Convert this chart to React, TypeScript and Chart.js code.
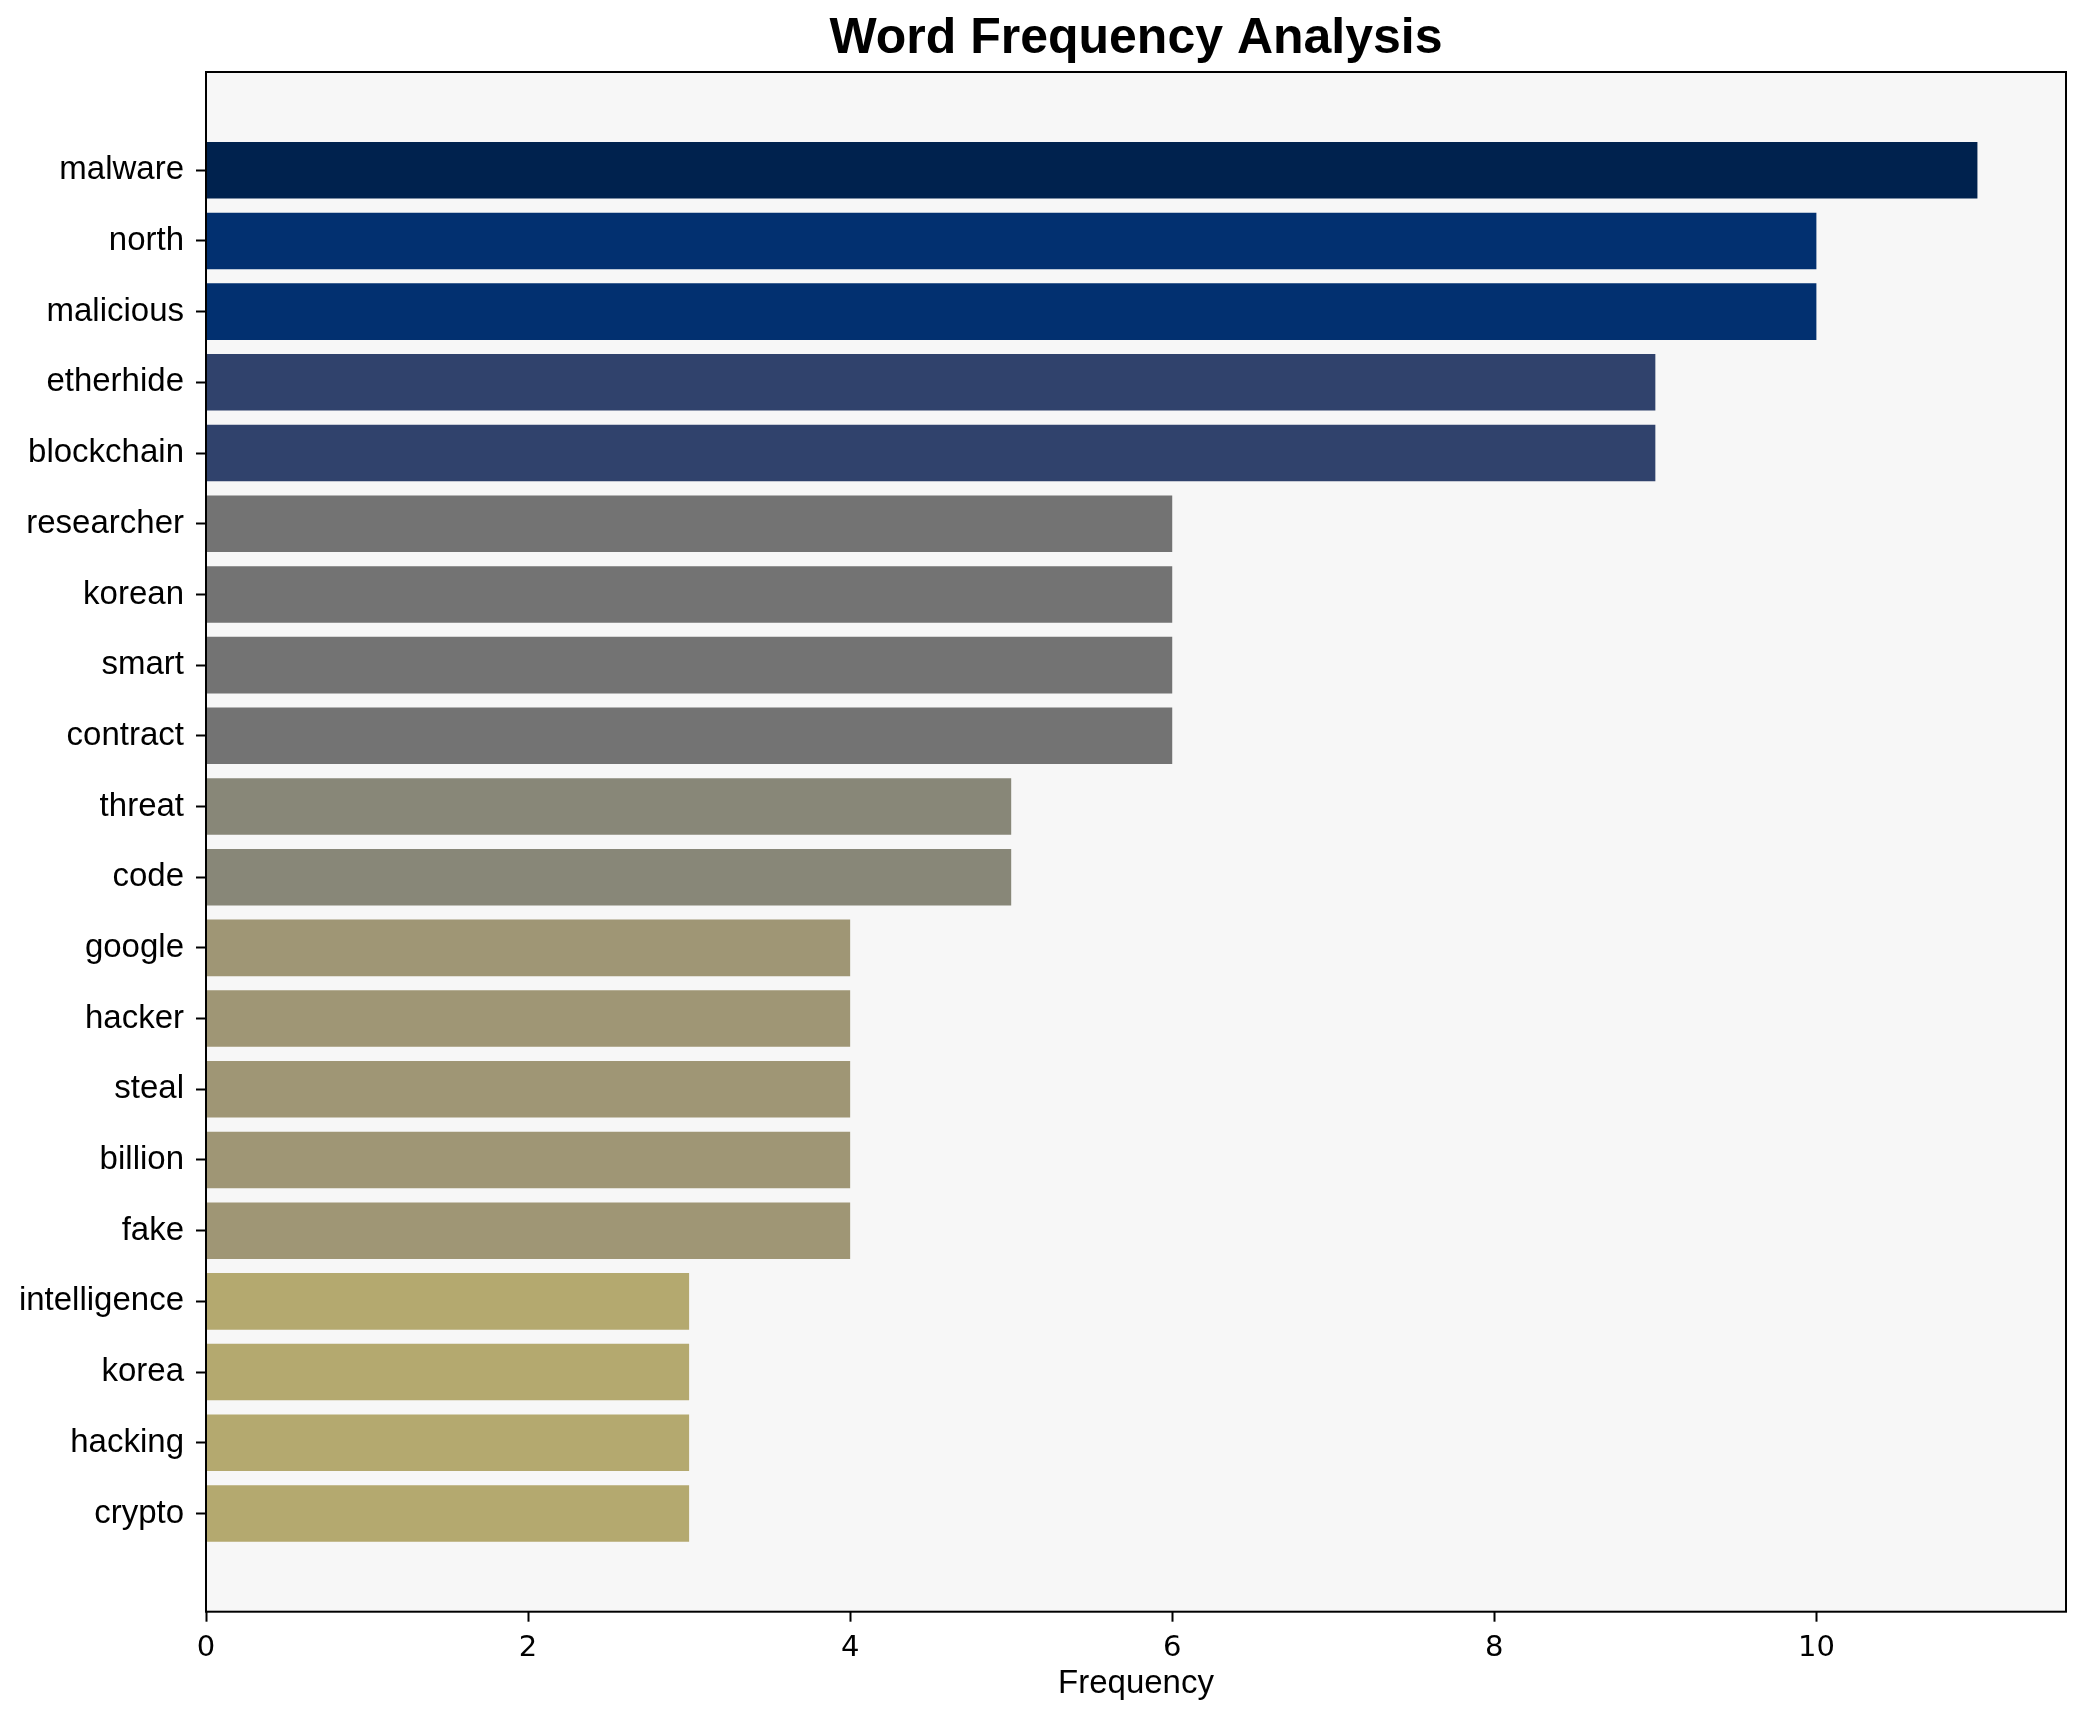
import React, { useEffect, useRef } from "react";
import { Chart, registerables } from "chart.js";

Chart.register(...registerables);

const words = [
  "malware", "north", "malicious", "etherhide", "blockchain",
  "researcher", "korean", "smart", "contract", "threat",
  "code", "google", "hacker", "steal", "billion",
  "fake", "intelligence", "korea", "hacking", "crypto",
];
const frequencies = [11, 10, 10, 9, 9, 6, 6, 6, 6, 5, 5, 4, 4, 4, 4, 4, 3, 3, 3, 3];
const barColors = [
  "#00224e", "#023070", "#023070", "#30426c", "#30426c",
  "#737373", "#737373", "#737373", "#737373", "#888778",
  "#888778", "#9f9675", "#9f9675", "#9f9675", "#9f9675",
  "#9f9675", "#b4a96f", "#b4a96f", "#b4a96f", "#b4a96f",
];
const xTickValues = [0, 2, 4, 6, 8, 10];

const frame = {
  id: "frame",
  beforeDraw(chart: any) {
    const { ctx, chartArea } = chart;
    ctx.save();
    ctx.fillStyle = "#f7f7f7";
    ctx.fillRect(chartArea.left, chartArea.top, chartArea.right - chartArea.left, chartArea.bottom - chartArea.top);
    ctx.restore();
  },
  afterDraw(chart: any) {
    const { ctx, chartArea } = chart;
    ctx.save();
    ctx.strokeStyle = "#000";
    ctx.lineWidth = 2;
    ctx.strokeRect(chartArea.left, chartArea.top, chartArea.right - chartArea.left, chartArea.bottom - chartArea.top);
    ctx.restore();
  },
};

export default function App() {
  const ref = useRef<HTMLCanvasElement | null>(null);
  useEffect(() => {
    document.body.style.margin = "0";
    const chart = new Chart(ref.current as HTMLCanvasElement, {
      type: "bar",
      data: {
        datasets: [
          {
            data: frequencies.map((v, i) => ({ x: v, y: i })) as any,
            backgroundColor: barColors,
            borderWidth: 0,
            barPercentage: 0.8,
            categoryPercentage: 1,
          },
        ],
      },
      plugins: [frame],
      options: {
        indexAxis: "y",
        animation: false,
        responsive: true,
        maintainAspectRatio: false,
        devicePixelRatio: 1,
        layout: { padding: { left: 0, right: 20, top: 0, bottom: 0 } },
        plugins: {
          legend: { display: false },
          tooltip: { enabled: false },
          title: {
            display: true,
            text: "Word Frequency Analysis",
            fullSize: false,
            color: "#000",
            font: { family: "'Liberation Sans', Arial, sans-serif", size: 50, weight: "bold", lineHeight: 1.2 },
            padding: { top: 9, bottom: 3 },
          },
        },
        scales: {
          x: {
            type: "linear",
            min: 0,
            max: 11.55,
            offset: false,
            afterBuildTicks: (scale: any) => {
              scale.ticks = xTickValues.map((v) => ({ value: v }));
            },
            afterFit: (scale: any) => {
              scale.height = 110.3;
            },
            grid: { display: true, offset: false, drawOnChartArea: false, drawTicks: true, tickLength: 10, tickColor: "#000", tickWidth: 2 },
            border: { display: false },
            ticks: {
              color: "#000",
              padding: 9,
              maxRotation: 0,
              font: { family: "'DejaVu Sans', sans-serif", size: 29 },
            },
            title: {
              display: true,
              text: "Frequency",
              color: "#000",
              font: { family: "'Liberation Sans', Arial, sans-serif", size: 33, lineHeight: 1.2 },
              padding: { top: 0, bottom: 18 },
            },
          },
          y: {
            type: "linear",
            reverse: true,
            min: -1.39,
            max: 20.39,
            offset: false,
            afterBuildTicks: (scale: any) => {
              scale.ticks = words.map((_, i) => ({ value: i }));
            },
            afterFit: (scale: any) => {
              scale.width = 206;
            },
            grid: { display: true, offset: false, drawOnChartArea: false, drawTicks: true, tickLength: 10, tickColor: "#000", tickWidth: 2 },
            border: { display: false },
            ticks: {
              color: "#000",
              padding: 12,
              autoSkip: false,
              font: { family: "'Liberation Sans', Arial, sans-serif", size: 33 },
              callback: (v: any) => words[Math.round(Number(v))] ?? "",
            },
          },
        },
      },
    });
    return () => chart.destroy();
  }, []);
  return (
    <div style={{ width: "2086px", height: "1722px", position: "relative" }}>
      <canvas ref={ref} />
    </div>
  );
}
